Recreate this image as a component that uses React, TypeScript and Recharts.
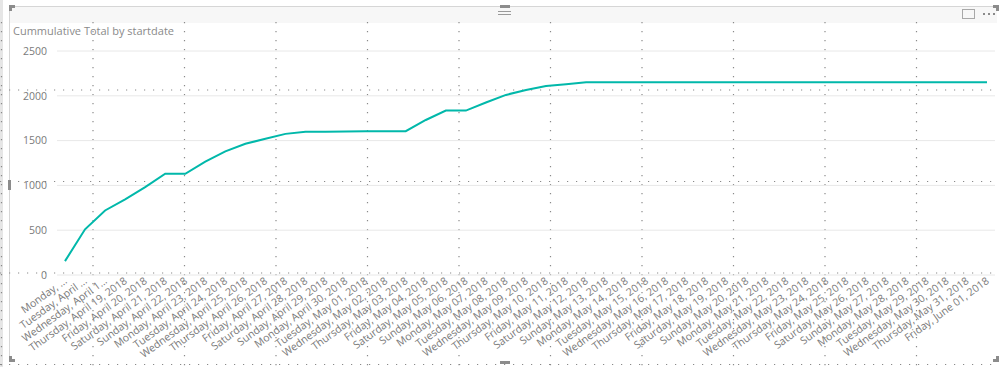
import React from 'react';
import { LineChart, Line, XAxis, YAxis, CartesianGrid } from 'recharts';

const dates = [
  'Monday, April 16, 2018', 'Tuesday, April 17, 2018', 'Wednesday, April 18, 2018',
  'Thursday, April 19, 2018', 'Friday, April 20, 2018', 'Saturday, April 21, 2018',
  'Sunday, April 22, 2018', 'Monday, April 23, 2018', 'Tuesday, April 24, 2018',
  'Wednesday, April 25, 2018', 'Thursday, April 26, 2018', 'Friday, April 27, 2018',
  'Saturday, April 28, 2018', 'Sunday, April 29, 2018', 'Monday, April 30, 2018',
  'Tuesday, May 01, 2018', 'Wednesday, May 02, 2018', 'Thursday, May 03, 2018',
  'Friday, May 04, 2018', 'Saturday, May 05, 2018', 'Sunday, May 06, 2018',
  'Monday, May 07, 2018', 'Tuesday, May 08, 2018', 'Wednesday, May 09, 2018',
  'Thursday, May 10, 2018', 'Friday, May 11, 2018', 'Saturday, May 12, 2018',
  'Sunday, May 13, 2018', 'Monday, May 14, 2018', 'Tuesday, May 15, 2018',
  'Wednesday, May 16, 2018', 'Thursday, May 17, 2018', 'Friday, May 18, 2018',
  'Saturday, May 19, 2018', 'Sunday, May 20, 2018', 'Monday, May 21, 2018',
  'Tuesday, May 22, 2018', 'Wednesday, May 23, 2018', 'Thursday, May 24, 2018',
  'Friday, May 25, 2018', 'Saturday, May 26, 2018', 'Sunday, May 27, 2018',
  'Monday, May 28, 2018', 'Tuesday, May 29, 2018', 'Wednesday, May 30, 2018',
  'Thursday, May 31, 2018', 'Friday, June 01, 2018',
];

// the first three labels are cut short in the visual
const tickLabels = [
  'Monday, ...', 'Tuesday, April ...', 'Wednesday, April 1...',
  ...dates.slice(3),
];

const cumulative = [
  155, 510, 720, 845, 980, 1130, 1130, 1265, 1380, 1465,
  1520, 1575, 1600, 1600, 1602, 1603, 1604, 1605, 1730, 1835,
  1835, 1925, 2010, 2065, 2110, 2130, 2150, 2150, 2150, 2150,
  2150, 2150, 2150, 2150, 2150, 2150, 2150, 2150, 2150, 2150,
  2150, 2150, 2150, 2150, 2150, 2150, 2150,
];

const yTicks = [0, 500, 1000, 1500, 2000, 2500];

const data = dates.map((d, i) => ({ startdate: d, total: cumulative[i] }));

const FONT = '"Segoe UI", "Open Sans", "Noto Sans", sans-serif';
const LABEL = '#7a7a7a';

const DateTick = (props: any) => {
  const { x, y, payload } = props;
  const idx = dates.indexOf(payload.value);
  return (
    <g transform={`translate(${x + 1},${y - 3})`}>
      <text transform="rotate(-36)" textAnchor="end" x={0} y={0} dy={3} fontSize={10.5} fill={LABEL} fontFamily={FONT}>
        {tickLabels[idx]}
      </text>
    </g>
  );
};

// Power BI edit-mode snap grid (dotted) and the frame around the visual
const SnapGrid = () => {
  const xs = [1.5, 93, 184.5, 276, 367.5, 459, 550.5, 642, 733.5, 825, 916.5];
  const ys = [90, 181.5, 273, 364.5];
  return (
    <svg width={999} height={367} style={{ position: 'absolute', left: 0, top: 0, pointerEvents: 'none' }}>
      {xs.map((x) => (
        <line key={'v' + x} x1={x} x2={x} y1={22} y2={367} stroke="#8a8a8a" strokeWidth={1.2} strokeDasharray="1.2 7.8" />
      ))}
      {ys.map((y) => (
        <line key={'h' + y} x1={0} x2={999} y1={y} y2={y} stroke="#8a8a8a" strokeWidth={1.2} strokeDasharray="1.2 7.8" />
      ))}
    </svg>
  );
};

const box = (left: number, top: number, width: number, height: number, background = '#8c8c8c') => (
  <div style={{ position: 'absolute', left, top, width, height, background }} />
);

const Frame = () => (
  <>
    {box(0, 0, 3, 367, '#e6e6e6')}
    <div style={{ position: 'absolute', left: 9, top: 6, width: 988, height: 16, background: '#f7f7f7', borderTop: '1px solid #d6d6d6' }} />
    {box(9, 6, 1, 356, '#d6d6d6')}
    {/* corner marks */}
    {box(9, 5, 6, 3)}
    {box(9, 5, 3, 6)}
    {box(993, 5, 6, 3)}
    {box(996, 5, 3, 6)}
    {box(9, 359, 6, 3)}
    {box(9, 356, 3, 6)}
    {box(993, 359, 6, 3)}
    {box(996, 356, 3, 6)}
    {/* side handles */}
    {box(500, 5, 10, 3)}
    {box(500, 361, 10, 3)}
    {box(8, 180, 3, 10)}
    {/* header icons */}
    {box(498, 11, 13, 1, '#9a9a9a')}
    {box(498, 14, 13, 1, '#9a9a9a')}
    <div style={{ position: 'absolute', left: 962, top: 9, width: 11, height: 8, border: '1px solid #a8a8a8' }} />
    {box(983, 13, 2, 2, '#8a8a8a')}
    {box(988, 13, 2, 2, '#8a8a8a')}
    {box(993, 13, 2, 2, '#8a8a8a')}
  </>
);

export default function App() {
  return (
    <div style={{ position: 'relative', width: 999, height: 367, background: '#ffffff', overflow: 'hidden' }}>
      <style>{'body { margin: 0; }'}</style>
      <Frame />
      <SnapGrid />
      <div style={{ position: 'absolute', left: 13, top: 23, fontSize: 11, color: '#8a8a8a', fontFamily: FONT }}>
        Cummulative Total by startdate
      </div>
      <div style={{ position: 'absolute', left: 0, top: 0 }}>
        <LineChart width={999} height={367} data={data} margin={{ top: 51, right: 4, bottom: 0, left: 0 }}>
          <CartesianGrid vertical={false} stroke="#e8e8e8" strokeWidth={1} />
          <XAxis
            dataKey="startdate"
            interval={0}
            tickLine={false}
            axisLine={false}
            height={92}
            padding={{ left: 8, right: 8 }}
            tick={<DateTick />}
          />
          <YAxis
            width={57}
            domain={[0, 2500]}
            ticks={yTicks}
            tickLine={false}
            axisLine={false}
            tickMargin={4}
            tick={{ fontSize: 10.5, fill: LABEL, fontFamily: FONT }}
          />
          <Line
            type="linear"
            dataKey="total"
            stroke="#01B8AA"
            strokeWidth={2}
            dot={false}
            isAnimationActive={false}
          />
        </LineChart>
      </div>
    </div>
  );
}
